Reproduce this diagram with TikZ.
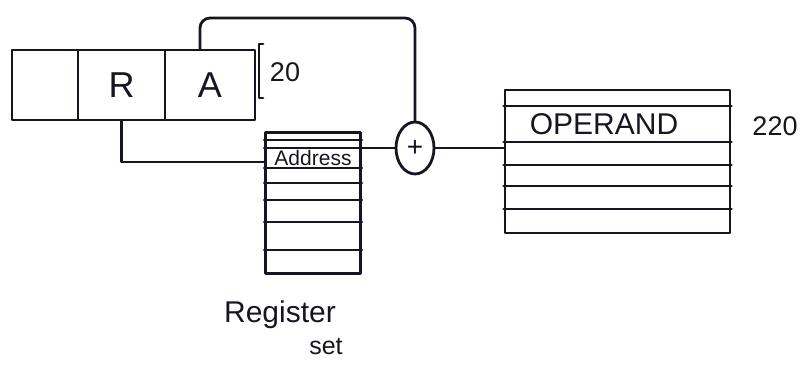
\documentclass[tikz,border=0pt]{standalone}
\usepackage{fontspec}
\setmainfont{Liberation Sans}
\usetikzlibrary{shapes.geometric}
\definecolor{ink}{RGB}{22,22,34}
\begin{document}
\begin{tikzpicture}[x=1pt,y=-1pt,
  ink line/.style={draw=ink,line width=2.8pt,line join=round,line cap=round},
  field/.style={ink line,minimum height=70pt,inner sep=0pt,font=\fontsize{36}{36}\selectfont,text=ink},
  lbl/.style={text=ink,inner sep=0pt},
  wire/.style={ink line}]
\useasboundingbox (0,0) rectangle (810,371);

% instruction word: unused field, register field R, address field A
\node[field,minimum width=66pt]  (f0) at (45,85) {};
\node[field,minimum width=87pt]  (fR) at (121.5,85) {R};
\node[field,minimum width=90pt]  (fA) at (210,85) {A};

% word length bracket
\coordinate (bt) at (259,44);
\coordinate (bb) at (259,98);
\draw[wire] ([xshift=4pt]bt) -- (bt) -- (bb) -- ([xshift=4pt]bb);
\node[lbl,font=\fontsize{27}{27}\selectfont] (w20) at (285,72) {20};

% register set
\node[ink line,minimum width=95pt,minimum height=141pt,inner sep=0pt] (reg) at (313,203) {};
\foreach \yy in {140,148,168,183,200,222,250}
  \draw[wire] (reg.west |- 0,\yy) -- (reg.east |- 0,\yy);
\node[lbl,font=\fontsize{21}{21}\selectfont] (addr) at (313,158) {Address};
\node[lbl,font=\fontsize{30}{30}\selectfont,anchor=base] (rlbl) at (280,322) {Register};
\node[lbl,font=\fontsize{25}{25}\selectfont,anchor=base] (slbl) at (326,354) {set};

% adder
\node[ellipse,ink line,minimum width=38pt,minimum height=52pt,inner sep=0pt,
      font=\fontsize{28}{28}\selectfont,text=ink] (add) at (415,148) {+};

% memory holding the operand
\node[ink line,minimum width=225pt,minimum height=143pt,inner sep=0pt] (mem) at (617.5,161.5) {};
\foreach \yy in {106,142,165,186,209}
  \draw[wire] (mem.west |- 0,\yy) -- (mem.east |- 0,\yy);
\node[lbl,font=\fontsize{30}{30}\selectfont] (opnd) at (604,124) {OPERAND};
\node[lbl,font=\fontsize{27}{27}\selectfont] (m220) at (775,126) {220};

% connections
\draw[wire,rounded corners=10pt] ([xshift=-10pt]fA.north) |- (add.north |- 0,18) -- (add.north);
\draw[wire] (fR.south) |- (reg.west |- 0,162);
\draw[wire] (reg.east |- add.west) -- (add.west);
\draw[wire] (add.east) -- (mem.west |- add.east);
\end{tikzpicture}
\end{document}
